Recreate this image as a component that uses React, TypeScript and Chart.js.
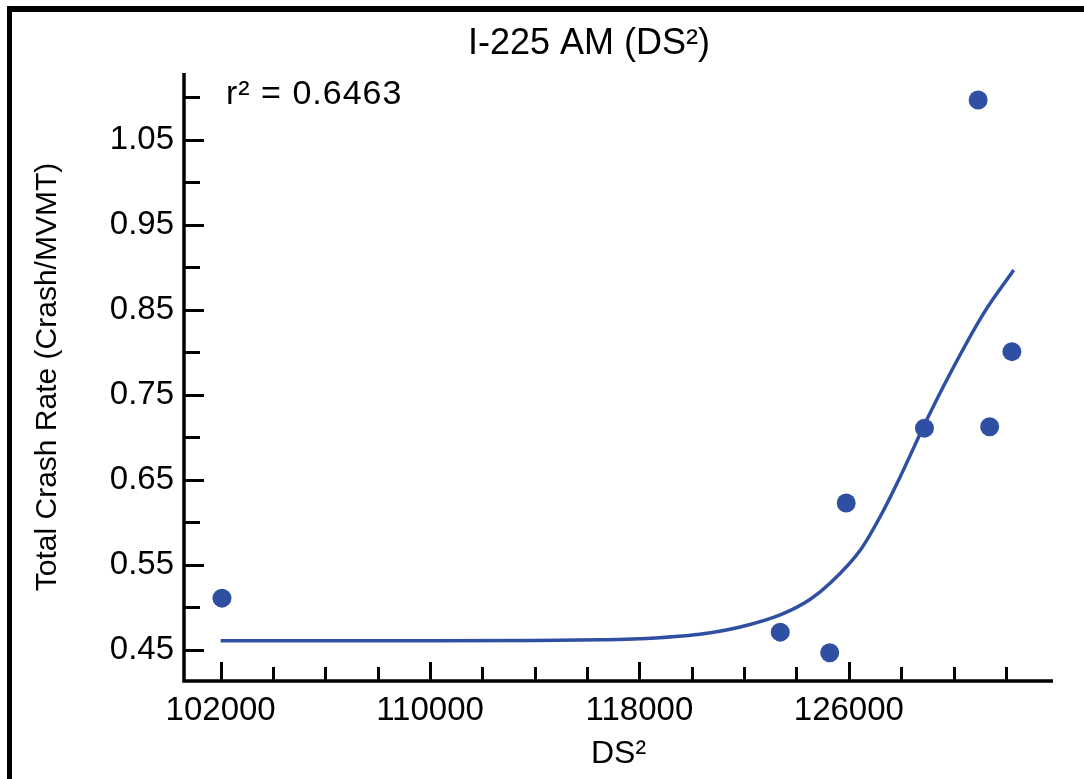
import React, { useEffect, useRef } from "react";
import { Chart, registerables } from "chart.js";

Chart.register(...registerables);

const CHART_TITLE = "I-225 AM (DS²)";
const R2_TEXT = "r² = 0.6463";
const X_TITLE = "DS²";
const Y_TITLE = "Total Crash Rate (Crash/MVMT)";

const POINT_X = [102050, 123380, 125270, 125900, 128890, 130940, 131380, 132230];
const POINT_Y = [0.511, 0.471, 0.4468, 0.623, 0.711, 1.097, 0.7127, 0.801];

const FIT_X = [102000, 106000, 110000, 114000, 116500, 118000, 120300, 121850, 123400, 124500, 125300, 126450, 127200, 127950, 128950, 129900, 131150, 132300];
const FIT_Y = [0.461, 0.461, 0.461, 0.4612, 0.462, 0.4632, 0.4685, 0.477, 0.4915, 0.509, 0.529, 0.568, 0.607, 0.653, 0.719, 0.777, 0.846, 0.897];

const X_MAJOR = [102000, 110000, 118000, 126000];
const X_MINOR = [104000, 106000, 108000, 112000, 114000, 116000, 120000, 122000, 124000, 128000, 130000, 132000];
const X_TICK_LABELS = ["102000", "110000", "118000", "126000"];

const Y_MAJOR = [0.45, 0.55, 0.65, 0.75, 0.85, 0.95, 1.05];
const Y_MINOR = [0.5, 0.6, 0.7, 0.8, 0.9, 1.0, 1.1];
const Y_TICK_LABELS = ["0.45", "0.55", "0.65", "0.75", "0.85", "0.95", "1.05"];

const X_MIN = 100600;
const X_MAX = 133800;
const Y_MIN = 0.4135;
const Y_MAX = 1.1288;

const BLUE = "#2F4FA2";
const FONT = "'Liberation Sans', Arial, sans-serif";

const idxOf = (arr: number[], v: number) => arr.findIndex((a) => Math.abs(a - v) < 1e-6);

const axesPlugin = {
  id: "customAxes",
  beforeDatasetsDraw(chart: any) {
    const { ctx, chartArea } = chart;
    const xs = chart.scales.x;
    const ys = chart.scales.y;
    ctx.save();
    ctx.strokeStyle = "#000";
    ctx.lineCap = "butt";
    ctx.lineWidth = 3;
    for (const v of [...X_MAJOR, ...X_MINOR]) {
      const px = Math.round(xs.getPixelForValue(v)) + 0.5;
      const len = idxOf(X_MAJOR, v) >= 0 ? 19 : 14;
      ctx.beginPath();
      ctx.moveTo(px, chartArea.bottom);
      ctx.lineTo(px, chartArea.bottom - len);
      ctx.stroke();
    }
    for (const v of [...Y_MAJOR, ...Y_MINOR]) {
      const py = Math.round(ys.getPixelForValue(v)) + 0.5;
      const len = idxOf(Y_MAJOR, v) >= 0 ? 20 : 16;
      ctx.beginPath();
      ctx.moveTo(chartArea.left, py);
      ctx.lineTo(chartArea.left + len, py);
      ctx.stroke();
    }
    ctx.lineWidth = 3.5;
    ctx.beginPath();
    ctx.moveTo(chartArea.left, chartArea.top);
    ctx.lineTo(chartArea.left, chartArea.bottom);
    ctx.lineTo(chartArea.right, chartArea.bottom);
    ctx.stroke();
    ctx.restore();
  },
  afterDraw(chart: any) {
    const { ctx } = chart;
    ctx.save();
    ctx.fillStyle = "#000";
    ctx.font = `36px ${FONT}`;
    ctx.textAlign = "center";
    ctx.textBaseline = "middle";
    ctx.fillText(CHART_TITLE, 589, 44);
    ctx.font = `34px ${FONT}`;
    ctx.textAlign = "left";
    try {
      (ctx as any).letterSpacing = "1px";
    } catch (e) {}
    ctx.fillText(R2_TEXT, 226, 95);
    ctx.restore();
  },
};

export default function App() {
  const canvasRef = useRef<HTMLCanvasElement | null>(null);

  useEffect(() => {
    if (!canvasRef.current) return;
    Chart.defaults.font.family = FONT;
    const chart = new Chart(canvasRef.current, {
      type: "scatter",
      data: {
        datasets: [
          {
            type: "scatter",
            label: "Observed",
            data: POINT_X.map((x, i) => ({ x, y: POINT_Y[i] })),
            pointRadius: 9.5,
            pointHoverRadius: 9.5,
            backgroundColor: BLUE,
            borderWidth: 0,
            order: 1,
          },
          {
            type: "line",
            label: "Fit",
            data: FIT_X.map((x, i) => ({ x, y: FIT_Y[i] })),
            borderColor: BLUE,
            borderWidth: 3.5,
            pointRadius: 0,
            fill: false,
            cubicInterpolationMode: "monotone",
            order: 2,
          } as any,
        ],
      },
      options: {
        animation: false,
        responsive: false,
        maintainAspectRatio: false,
        layout: { padding: { top: 73, right: 31, bottom: 0, left: 0 } },
        plugins: {
          legend: { display: false },
          tooltip: { enabled: false },
          title: { display: false },
        },
        scales: {
          x: {
            type: "linear",
            min: X_MIN,
            max: X_MAX,
            afterBuildTicks: (s: any) => {
              s.ticks = [...X_MAJOR, ...X_MINOR].sort((a, b) => a - b).map((v) => ({ value: v }));
            },
            afterFit: (s: any) => {
              s.height = 98;
            },
            grid: { display: false, drawTicks: false },
            border: { display: false },
            ticks: {
              autoSkip: false,
              maxRotation: 0,
              color: "#000",
              padding: 10,
              font: { size: 33 },
              callback: (v: any) => {
                const i = idxOf(X_MAJOR, Number(v));
                return i >= 0 ? X_TICK_LABELS[i] : "";
              },
            },
            title: {
              display: true,
              text: X_TITLE,
              color: "#000",
              font: { size: 32 },
              padding: { top: 0, bottom: 6 },
            },
          },
          y: {
            type: "linear",
            min: Y_MIN,
            max: Y_MAX,
            afterBuildTicks: (s: any) => {
              s.ticks = [...Y_MAJOR, ...Y_MINOR].sort((a, b) => a - b).map((v) => ({ value: v }));
            },
            afterFit: (s: any) => {
              s.width = 184;
            },
            grid: { display: false, drawTicks: false },
            border: { display: false },
            ticks: {
              autoSkip: false,
              color: "#000",
              padding: 10,
              font: { size: 33 },
              callback: (v: any) => {
                const i = idxOf(Y_MAJOR, Number(v));
                return i >= 0 ? Y_TICK_LABELS[i] : "";
              },
            },
            title: {
              display: true,
              text: Y_TITLE,
              color: "#000",
              font: { size: 30 },
              padding: { top: 30, bottom: 0 },
            },
          },
        },
      },
      plugins: [axesPlugin],
    });
    return () => chart.destroy();
  }, []);

  return (
    <div style={{ position: "fixed", left: 0, top: 0, width: 1084, height: 779, background: "#fff" }}>
      <canvas ref={canvasRef} width={1084} height={779} style={{ position: "absolute", left: 0, top: 0 }} />
      <div
        style={{
          position: "absolute",
          left: 7,
          top: 6,
          width: 1084 - 7,
          height: 779 - 6,
          boxSizing: "border-box",
          borderTop: "6px solid #000",
          borderLeft: "5px solid #000",
          pointerEvents: "none",
        }}
      />
    </div>
  );
}
